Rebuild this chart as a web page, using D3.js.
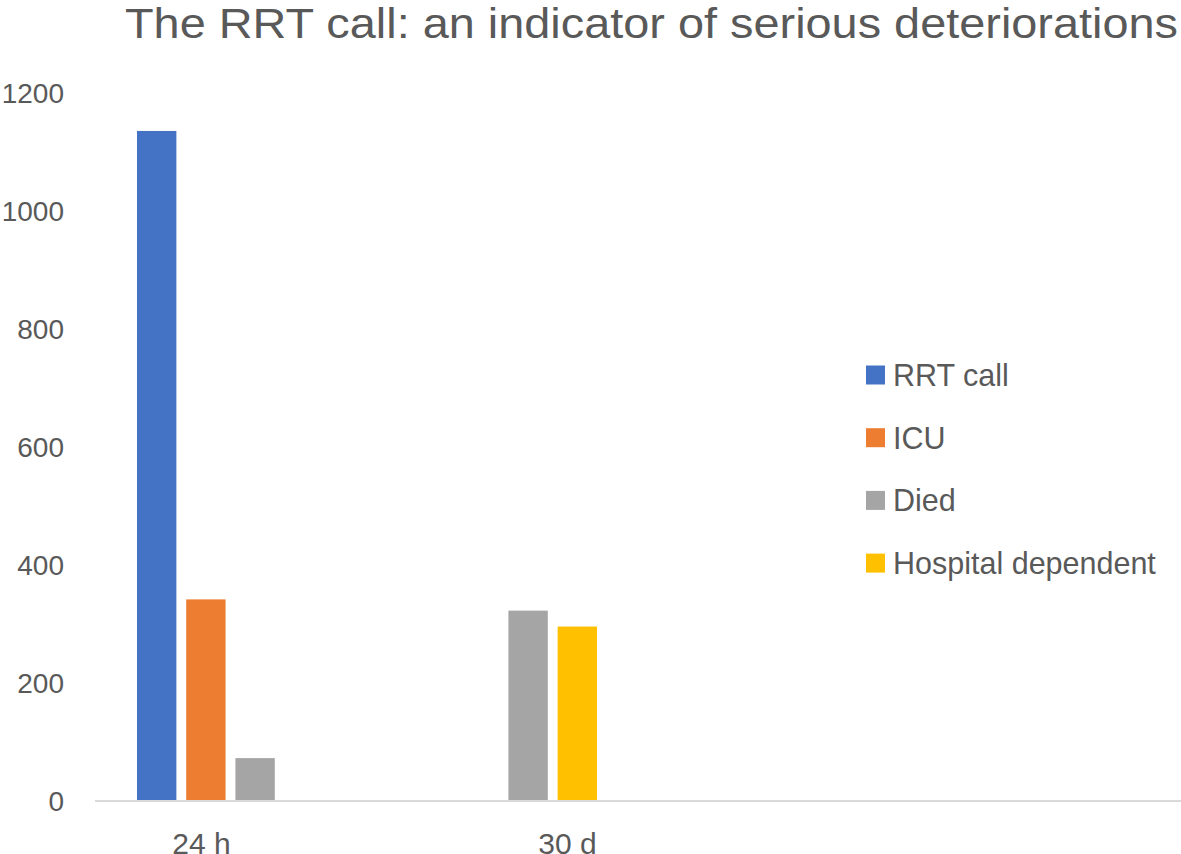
<!DOCTYPE html>
<html>
<head>
<meta charset="utf-8">
<script src="https://cdn.jsdelivr.net/npm/d3@7"></script>
<style>
  html, body { margin: 0; padding: 0; background: #fff; }
  svg { display: block; }
  text { font-family: "Liberation Sans", Arial, sans-serif; fill: #595959; }
</style>
</head>
<body>
<svg id="chart" width="1181" height="854"></svg>
<script>
// ---- data ----
const title = "The RRT call: an indicator of serious deteriorations";
const categories = ["24 h", "30 d", "c3", "c4"];
const categoryLabels = ["24 h", "30 d", "", ""];
const seriesNames = ["RRT call", "ICU", "Died", "Hospital dependent"];
const rrtCall = [1134, 0, 0, 0];
const icu = [340, 0, 0, 0];
const died = [71, 321, 0, 0];
const hospitalDependent = [0, 294, 0, 0];
const yTicks = [0, 200, 400, 600, 800, 1000, 1200];

const seriesValues = [rrtCall, icu, died, hospitalDependent];
const colors = ["#4472C4", "#ED7D31", "#A5A5A5", "#FFC000"];

// ---- layout ----
const svg = d3.select("#chart");
const W = 1181, H = 854;
const plot = { left: 94, right: 1186, top: 92, bottom: 800 };

const x0 = d3.scaleBand().domain(categories).range([plot.left, plot.right]).paddingInner(0.315).paddingOuter(0.1575);
const x1 = d3.scaleBand().domain(seriesNames).range([0, x0.bandwidth()]).paddingInner(0.2);
const y = d3.scaleLinear().domain([0, 1200]).range([plot.bottom, plot.top]);

// title
svg.append("text")
  .attr("x", 125).attr("y", 38)
  .attr("font-size", 42)
  .attr("textLength", 1053)
  .attr("lengthAdjust", "spacingAndGlyphs")
  .text(title);

// y axis labels
const yAxis = d3.axisLeft(y).tickValues(yTicks).tickSize(0).tickPadding(0).tickFormat(d3.format("d"));
const yg = svg.append("g").attr("transform", `translate(64,0)`).call(yAxis);
yg.select(".domain").remove();
yg.selectAll("text")
  .attr("font-size", 28)
  .attr("font-family", "Liberation Sans, Arial, sans-serif")
  .attr("fill", "#595959")
  .attr("dy", "0.36em");

// bars
const groups = svg.append("g").selectAll("g")
  .data(categories)
  .join("g")
  .attr("transform", d => `translate(${x0(d)},0)`);

groups.selectAll("rect")
  .data((c, i) => seriesNames.map((s, j) => ({ s, v: seriesValues[j][i], j })))
  .join("rect")
  .attr("x", d => x1(d.s))
  .attr("width", x1.bandwidth())
  .attr("y", d => y(d.v))
  .attr("height", d => y(0) - y(d.v))
  .attr("fill", d => colors[d.j]);

// x axis baseline
svg.append("line")
  .attr("x1", 95).attr("x2", W)
  .attr("y1", y(0) + 1).attr("y2", y(0) + 1)
  .attr("stroke", "#d9d9d9").attr("stroke-width", 2);

// x category labels (placed as in the reference, offset from the band centers)
const labelOffsets = [-29, 64, 0, 0];
const xAxis = d3.axisBottom(x0).tickSize(0).tickPadding(0).tickFormat((d, i) => categoryLabels[i]);
const xg = svg.append("g").attr("transform", `translate(0,${y(0)})`).call(xAxis);
xg.select(".domain").remove();
xg.selectAll(".tick text")
  .attr("font-size", 30)
  .attr("font-family", "Liberation Sans, Arial, sans-serif")
  .attr("fill", "#595959")
  .attr("y", 54)
  .attr("dy", 0)
  .attr("dx", (d, i) => labelOffsets[i]);

// legend
const legend = svg.append("g").attr("transform", "translate(866,375)");
const li = legend.selectAll("g").data(seriesNames).join("g")
  .attr("transform", (d, i) => `translate(0,${i * 62.7})`);
li.append("rect").attr("x", 0).attr("y", -9.5).attr("width", 19).attr("height", 19)
  .attr("fill", (d, i) => colors[i]);
li.append("text").attr("x", 27).attr("y", 0).attr("dy", "0.36em")
  .attr("font-size", 30.5).text(d => d);
</script>
</body>
</html>
